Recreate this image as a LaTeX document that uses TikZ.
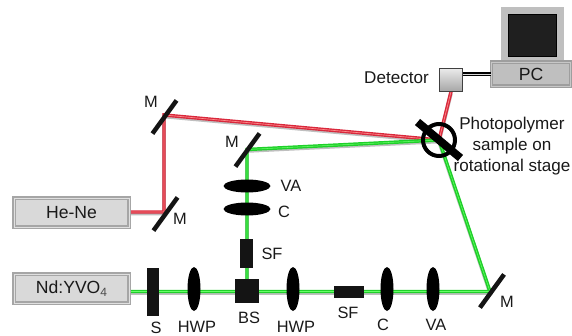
\documentclass[tikz,border=0pt]{standalone}
\usepackage{fontspec}
\setmainfont{Liberation Sans}
\usetikzlibrary{shapes.geometric,backgrounds}
\definecolor{redbeam}{HTML}{D9283C}
\definecolor{greenbeam}{HTML}{1FCF2A}
\tikzset{
  lab/.style={font=\fontsize{12.3}{14}\selectfont,inner sep=0pt,text=black!90},
  bigl/.style={font=\fontsize{12.8}{15.75}\selectfont,inner sep=0pt,text=black!90},
  sourcebox/.style={rectangle,inner sep=0pt,fill=black!15,draw=black!35,line width=1.1pt,double=black!12,double distance=0.7pt,minimum width=#1*0.75pt,minimum height=29*0.75pt,font=\fontsize{13.2}{15}\selectfont,text=black!90},
  mirror/.style={rectangle,fill=black!92,inner sep=0pt,minimum width=41*0.75pt,minimum height=4.5*0.75pt,rotate=54},
  hlens/.style={ellipse,fill=black,inner sep=0pt,minimum width=47*0.75pt,minimum height=13*0.75pt},
  vlens/.style={ellipse,fill=black,inner sep=0pt,minimum width=13*0.75pt,minimum height=44*0.75pt},
  solid block/.style={rectangle,fill=black!92,inner sep=0pt},
  beamshadow/.style={draw=black!25,line width=2.8pt,transform canvas={yshift=-1.1pt}},
  redray/.style={preaction={beamshadow},draw=redbeam,line width=2.6pt,postaction={draw=red!45!white,line width=0.5pt}},
  greenray/.style={preaction={beamshadow},draw=greenbeam,line width=2.6pt,postaction={draw=green!60!white,line width=0.4pt}},
}
\begin{document}
\begin{tikzpicture}[x=0.75pt,y=-0.75pt]
\useasboundingbox (0,0) rectangle (572,336);
% sources
\node[sourcebox=115] (hene) at (71.5,212.5) {He-Ne};
\node[sourcebox=115] (nd) at (71.5,288.5) {Nd:YVO\raisebox{-0.35ex}{\fontsize{9}{9}\selectfont\textcolor{black!70}{4}}};
% mirrors
\node[mirror] (m1) at (164.5,117) {};
\node[mirror] (m2) at (247.5,150) {};
\node[mirror] (m3) at (165.5,214) {};
\node[mirror] (m4) at (492,291) {};
% beam hit points
\coordinate (hit1) at (164,115);
\coordinate (hit2) at (247,149.5);
\coordinate (hit3) at (164,212);
\coordinate (hit4) at (490,291.5);
% optics vertical arm
\node[hlens] (va1) at (247,186) {};
\node[hlens] (c1) at (247,209) {};
\node[solid block,minimum width=13*0.75pt,minimum height=29*0.75pt] (sf1) at (246.5,253.5) {};
\node[solid block,minimum width=24*0.75pt,minimum height=24*0.75pt] (bs) at (247,291) {};
% optics horizontal arm
\node[solid block,minimum width=12*0.75pt,minimum height=48*0.75pt] (s) at (153,292) {};
\node[vlens] (hwp1) at (194,289) {};
\node[vlens] (hwp2) at (293,289) {};
\node[solid block,minimum width=30*0.75pt,minimum height=12*0.75pt] (sf2) at (349,292) {};
\node[vlens] (c2) at (387,289) {};
\node[vlens] (va2) at (433,289) {};
% sample
\coordinate (samp) at (439,140);
\node[rectangle,fill=black,inner sep=0pt,minimum width=56*0.75pt,minimum height=8*0.75pt,rotate=-40] (bar) at (samp) {};
\node[circle,draw=black,line width=3pt,minimum size=32*0.75pt,inner sep=0pt] (stage) at (samp) {};
% detector and PC
\node[rectangle,draw=black!75,line width=0.5pt,top color=black!8,bottom color=black!35,minimum width=23*0.75pt,minimum height=23*0.75pt,inner sep=0pt] (det) at (451,80) {};
\node[rectangle,fill=black!25,inner sep=0pt,minimum width=63*0.75pt,minimum height=54*0.75pt] (mon) at (532.5,34) {};
\node[rectangle,fill=black!88,draw=black,line width=1.2pt,inner sep=0pt,minimum width=48*0.75pt,minimum height=42*0.75pt] (scr) at (532.5,35.5) {};
\node[rectangle,inner sep=0pt,fill=black!25,draw=black!38,line width=1pt,double=black!22,double distance=0.6pt,minimum width=79*0.75pt,minimum height=24*0.75pt,font=\fontsize{13.2}{15}\selectfont,text=black!90] (pc) at (531,74) {PC};
% beams
\begin{scope}[on background layer]
  \draw[redray] (hene.east |- hit3) -- (hit3) -- (hit1) -- (samp) -- (det.south);
  \draw[greenray] (nd.east |- hit4) -- (hit4) -- (samp);
  \draw[greenray] (bs.center) -- (hit2) -- (samp);
\end{scope}
\draw[black,double=black!15,line width=0.9pt,double distance=0.7pt] (det.east |- pc.center) -- (pc.west);
% labels
\node[lab] (lm1) at (151,102) {M};
\node[lab] (lm2) at (232,142) {M};
\node[lab] (lm3) at (180,219) {M};
\node[lab] (lm4) at (507,302) {M};
\node[lab] (lva1) at (291,186) {VA};
\node[lab] (lc1) at (284,212) {C};
\node[lab] (lsf1) at (272,254) {SF};
\node[lab] (lbs) at (249,318) {BS};
\node[lab] (ls) at (156,327.5) {S};
\node[lab] (lhwp1) at (197,327) {HWP};
\node[lab] (lhwp2) at (296,327) {HWP};
\node[lab] (lsf2) at (348,313) {SF};
\node[lab] (lc2) at (383,325) {C};
\node[lab] (lva2) at (436,325) {VA};
\node[bigl,anchor=east] (ldet) at (429,78) {Detector};
\node[bigl,align=center] (lsamp) at (512,146) {Photopolymer\\sample on\\rotational stage};
\end{tikzpicture}
\end{document}
